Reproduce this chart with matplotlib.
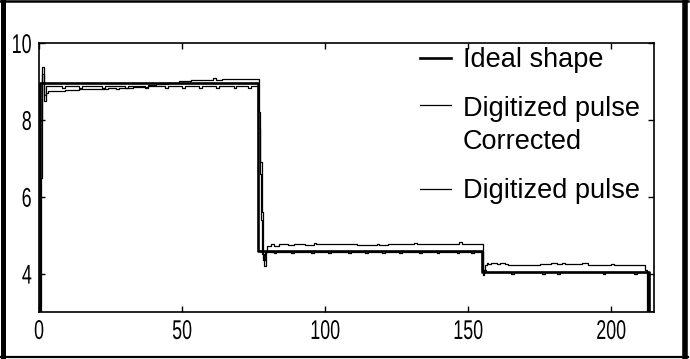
import matplotlib
matplotlib.use("Agg")
import matplotlib.pyplot as plt
from matplotlib.lines import Line2D
from matplotlib.legend_handler import HandlerLine2D
from matplotlib.patheffects import AbstractPathEffect
from matplotlib.transforms import Affine2D

# ---------------- data (step breakpoints: x start, value) ----------------
ideal_x = [0, 0.5, 76.5, 155.0, 213.2, 214]
ideal_y = [3.0, 8.95, 4.58, 4.04, 3.0, 3.0]

corr_x = [0, 0.5, 1.0, 1.6, 2.3, 8, 9, 14, 15, 22, 23, 30, 31, 37, 38, 44, 45, 50, 51,
          56, 57, 62, 63, 68, 69, 73, 74, 76.6, 77.1, 77.6, 78.1, 78.6, 79.3,
          82, 83, 88, 89, 95, 96, 101, 102, 108, 109, 114, 115, 120, 121, 126, 127,
          133, 134, 139, 140, 146, 147, 151, 152, 155.2, 155.7, 156.3,
          165, 166, 176, 177, 181, 182, 197, 198, 208, 209, 212.9, 214]
corr_y = [3.0, 8.0, 9.2, 8.65, 8.87, 8.82, 8.87, 8.82, 8.87, 8.82, 8.87, 8.82, 8.87,
          8.82, 8.87, 8.82, 8.87, 8.82, 8.87, 8.82, 8.87, 8.82, 8.87, 8.82, 8.87,
          8.82, 8.87, 7.8, 6.6, 5.4, 4.5, 4.2, 4.57,
          4.53, 4.57, 4.53, 4.57, 4.53, 4.57, 4.53, 4.57, 4.53, 4.57, 4.53, 4.57,
          4.53, 4.57, 4.53, 4.57, 4.53, 4.57, 4.53, 4.57, 4.53, 4.57, 4.53, 4.57,
          3.95, 4.1, 4.04,
          4.0, 4.04, 4.0, 4.04, 4.0, 4.04, 4.0, 4.04, 4.0, 4.04, 3.0, 3.0]

raw_x = [0, 0.6, 1.1, 1.7, 2.3, 3.0, 9, 14, 19, 24, 27, 28, 33, 38, 41, 45, 49, 53,
         57, 61, 62, 64, 76.8, 77.3, 77.8, 78.3, 78.9, 79.6,
         81, 82, 84, 87, 89, 93, 96, 97, 100, 103, 110, 111, 118, 119, 122, 131,
         132, 147, 148, 150, 155.3, 155.8, 156.5,
         157, 158, 160, 161, 163, 164, 175, 177, 179, 181, 183, 184, 186, 187,
         190, 192, 200, 201, 211.8, 212.4, 214]
raw_y = [3.0, 6.5, 9.38, 8.5, 8.7, 8.75, 8.77, 8.79, 8.81, 8.83, 8.80, 8.84, 8.86,
         8.90, 8.94, 8.96, 9.00, 9.03, 9.05, 9.08, 9.04, 9.07, 8.2, 6.9, 5.6, 4.35,
         4.55, 4.73,
         4.77, 4.73, 4.76, 4.74, 4.77, 4.75, 4.79, 4.76, 4.78, 4.76, 4.77, 4.75,
         4.77, 4.75, 4.76, 4.80, 4.76, 4.81, 4.78, 4.77, 4.1, 4.22, 4.27,
         4.24, 4.27, 4.24, 4.27, 4.24, 4.22, 4.26, 4.24, 4.27, 4.24, 4.27, 4.24,
         4.26, 4.24, 4.27, 4.23, 4.25, 4.22, 4.1, 3.0, 3.0]

labels = ["Ideal shape", "Digitized pulse\nCorrected", "Digitized pulse"]
xticks = [0, 50, 100, 150, 200]
yticks = [4, 6, 8, 10]

plt.rcParams["font.family"] = ["Liberation Sans", "DejaVu Sans"]


class Squeeze(AbstractPathEffect):
    """Draw text narrower (condensed look), keeping an anchor edge fixed."""

    def __init__(self, sx, anchor="center"):
        super().__init__()
        self.sx = sx
        self.anchor = anchor

    def draw_path(self, renderer, gc, tpath, affine, rgbFace=None):
        ext = tpath.get_extents()
        if self.anchor == "right":
            a = ext.x1
        else:
            a = 0.5 * (ext.x0 + ext.x1)
        t = Affine2D().translate(-a, 0).scale(self.sx, 1.0).translate(a, 0) + affine
        renderer.draw_path(gc, tpath, t, rgbFace)


fig = plt.figure(figsize=(6.9, 3.59), dpi=100)
fig.patch.set_facecolor("white")
ax = fig.add_axes([39 / 690, 47 / 359, (654 - 39) / 690, (312 - 43) / 359])

l_ideal, = ax.plot(ideal_x, ideal_y, drawstyle="steps-post", color="black", lw=1.9,
                   label=labels[0], zorder=3)
l_corr, = ax.plot(corr_x, corr_y, drawstyle="steps-post", color="black", lw=0.9,
                  label=labels[1], zorder=4)
l_raw, = ax.plot(raw_x, raw_y, drawstyle="steps-post", color="black", lw=0.9,
                 label=labels[2], zorder=4)

ax.set_xlim(0, 215)
ax.set_ylim(3, 10)
ax.set_xticks(xticks)
ax.set_yticks(yticks)
ax.tick_params(direction="in", length=4.5, width=1.0, top=True, right=True,
               pad=5, colors="black", labelsize=19.5)
for lab in ax.get_xticklabels():
    lab.set_path_effects([Squeeze(0.66, "center")])
for lab in ax.get_yticklabels():
    lab.set_path_effects([Squeeze(0.66, "right")])
for s in ax.spines.values():
    s.set_linewidth(1.2)


class UpHandler(HandlerLine2D):
    def __init__(self, shift, **kw):
        super().__init__(**kw)
        self.shift = shift

    def create_artists(self, legend, orig_handle, xdescent, ydescent, width, height,
                       fontsize, trans):
        return super().create_artists(legend, orig_handle, xdescent,
                                      ydescent - 2 * self.shift, width, height,
                                      fontsize, trans)


leg = ax.legend(handles=[l_ideal, l_corr, l_raw], labels=labels,
                loc="upper left", bbox_to_anchor=(0.62, 0.985), frameon=False,
                fontsize=19.5, handlelength=1.12, handletextpad=0.45,
                labelspacing=0.85, borderpad=0, borderaxespad=0,
                handler_map={l_corr: UpHandler(15.5)})
for t in leg.get_texts():
    t.set_linespacing(1.35)

# outer thick frame
def border(x0, y0, x1, y1, lw):
    fig.add_artist(Line2D([x0 / 690, x1 / 690], [1 - y0 / 359, 1 - y1 / 359],
                          transform=fig.transFigure, color="black", lw=lw,
                          solid_capstyle="projecting"))

border(2.5, 0, 2.5, 358, 3.6)
border(685, 0, 685, 358, 4.0)
border(0, 1.2, 688, 1.2, 1.8)
border(0, 357, 688, 357, 1.6)

fig.savefig("out.png", dpi=100, facecolor="white")
